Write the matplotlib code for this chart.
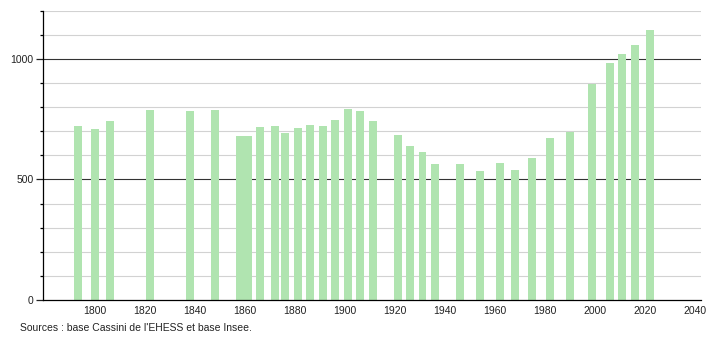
import numpy as np
import matplotlib.pyplot as plt

plt.rcParams['font.family'] = ['Liberation Sans', 'DejaVu Sans']

# census years and population
years = [1793, 1800, 1806, 1822, 1838, 1848, 1858, 1861, 1866, 1872, 1876,
         1881, 1886, 1891, 1896, 1901, 1906, 1911, 1921, 1926, 1931, 1936,
         1946, 1954, 1962, 1968, 1975, 1982, 1990, 1999, 2006, 2011, 2016, 2022]
population = [721, 709, 742, 787, 783, 787, 680, 680, 718, 721, 691,
              713, 727, 721, 746, 794, 785, 742, 684, 638, 613, 564,
              565, 535, 568, 539, 589, 671, 698, 897, 981, 1020, 1057, 1119]

x_ticks = [1800, 1820, 1840, 1860, 1880, 1900, 1920, 1940, 1960, 1980, 2000, 2020, 2040]
y_major = [0, 500, 1000]

fig = plt.figure(figsize=(7.1, 3.4), dpi=100)
ax = fig.add_axes([0.061, 0.1176, 0.926, 0.851])

# grid: light every 100, dark at 500 / 1000
for v in range(100, 1201, 100):
    if v % 500 == 0:
        ax.axhline(v, color='#333333', lw=0.8, zorder=1)
    else:
        ax.axhline(v, color='#d2d2d2', lw=0.8, zorder=1)

ax.bar(years, population, width=3.2, color='#b0e4b0', zorder=2)

ax.set_xlim(1779.2, 2042.4)
ax.set_ylim(0, 1200)

ax.spines['top'].set_visible(False)
ax.spines['right'].set_visible(False)
ax.spines['left'].set_linewidth(0.9)
ax.spines['bottom'].set_linewidth(0.9)

ax.set_xticks(x_ticks)
ax.set_xticklabels([str(t) for t in x_ticks])
ax.tick_params(axis='x', length=0, labelsize=7.5, pad=4, colors='#222222')

ax.set_yticks(y_major)
ax.set_yticks(range(0, 1201, 100), minor=True)
ax.tick_params(axis='y', which='major', length=5, width=0.9, labelsize=7.5, pad=2, colors='#222222')
ax.tick_params(axis='y', which='minor', length=2, width=0.9)

fig.text(0.028, 0.035, "Sources : base Cassini de l'EHESS et base Insee.",
         fontsize=7.5, color='#222222', ha='left', va='center')

fig.savefig('out.png', dpi=100)
